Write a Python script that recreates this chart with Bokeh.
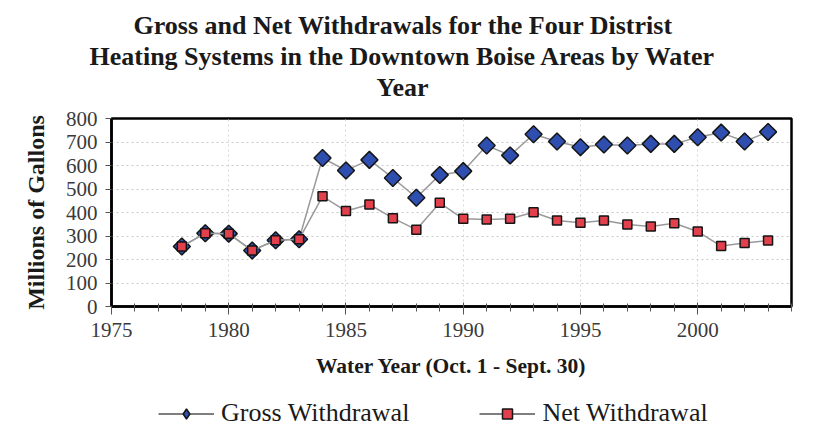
from bokeh.plotting import figure
from bokeh.models import Range1d, FixedTicker, Title, Legend, LegendItem
from bokeh.layouts import column
from bokeh.embed import file_html
from bokeh.resources import INLINE
import numpy as np

years = list(range(1978, 2004))
gross = [255, 312, 310, 238, 282, 286, 632, 579, 624, 547, 463,
         560, 576, 685, 643, 733, 702, 678, 689, 685, 692, 692, 720, 740, 702, 743]
net = [255, 312, 310, 238, 282, 286, 469, 406, 434, 376, 327,
       441, 373, 370, 373, 401, 366, 356, 366, 349, 340, 354, 319, 257, 270, 281]
x_major = [1975, 1980, 1985, 1990, 1995, 2000]
x_minor = list(range(1975, 2005))
y_major = [0, 100, 200, 300, 400, 500, 600, 700, 800]
title_lines = ["Gross and Net Withdrawals for the Four Distrist",
               "Heating Systems in the Downtown Boise Areas by Water",
               "Year"]
x_label = "Water Year (Oct. 1 - Sept. 30)"
y_label = "Millions of Gallons"
series_names = ["Gross Withdrawal", "Net Withdrawal"]

SERIF = "Liberation Serif"
LINE = dict(line_color="#9a9a9a", line_width=1.5)
GROSS_MK = dict(marker="square", angle=np.pi / 4, size=12, fill_color="#2f4fb0",
                line_color="#151515", line_width=1.5)
NET_MK = dict(marker="square", size=9, fill_color="#e2404c",
              line_color="#151515", line_width=1.5)

p = figure(width=815, height=392, frame_width=680, frame_height=188,
           output_backend="svg", toolbar_location=None,
           x_range=Range1d(1975, 2004), y_range=Range1d(0, 800),
           min_border_left=111, min_border_right=24, min_border_top=118,
           min_border_bottom=86)
p.title.visible = False
p.background_fill_color = "white"
p.border_fill_color = "white"
p.outline_line_color = "black"
p.outline_line_width = 2.5

# axes
p.xaxis.ticker = FixedTicker(ticks=x_major, minor_ticks=x_minor)
p.yaxis.ticker = FixedTicker(ticks=y_major)
for ax in (p.xaxis, p.yaxis):
    ax.axis_line_color = "black"
    ax.axis_line_width = 2.5
    ax.major_tick_line_color = "#555555"
    ax.minor_tick_line_color = "#555555"
    ax.major_label_text_font = SERIF
    ax.major_label_text_font_size = "21px"
    ax.major_label_text_color = "#3a3a3a"
    ax.axis_label_text_font = SERIF
    ax.axis_label_text_font_style = "bold"
    ax.axis_label_text_color = "#1a1a1a"

p.xaxis.major_tick_in = 4
p.xaxis.major_tick_out = 8
p.xaxis.minor_tick_in = 3
p.xaxis.minor_tick_out = 5
p.xaxis.major_label_standoff = 8
p.xaxis.axis_label = x_label
p.xaxis.axis_label_text_font_size = "21.5px"
p.xaxis.axis_label_standoff = 14

p.yaxis.major_tick_in = 0
p.yaxis.major_tick_out = 6
p.yaxis.minor_tick_line_color = None
p.yaxis.major_label_standoff = 8
p.yaxis.axis_label = y_label
p.yaxis.axis_label_text_font_size = "24px"
p.yaxis.axis_label_standoff = 14

# grid
p.ygrid.grid_line_color = "#c8c8c8"
p.ygrid.grid_line_dash = "2 3"
p.ygrid.grid_line_width = 1
p.xgrid.grid_line_color = "#d8d8d8"
p.xgrid.grid_line_dash = "2 3"
p.xgrid.grid_line_width = 1

# series
p.line(years, gross, **LINE)
p.scatter(years, gross, **GROSS_MK)
p.line(years, net, **LINE)
p.scatter(years, net, **NET_MK)

# title lines (added innermost first), with a small spacer next to the frame
p.add_layout(Title(text=" ", text_font_size="1px", standoff=14), "above")
offsets = [22, -22, 265]
for t, off in reversed(list(zip(title_lines, offsets))):
    p.add_layout(Title(text=t, align="left", offset=off, standoff=0,
                       text_font=SERIF, text_font_style="bold",
                       text_font_size="26px", text_color="#1a1a1a"), "above")

# legend strip below the chart (series drawn outside its visible range,
# only their legend swatches show)
lg = figure(width=815, height=42, output_backend="svg", toolbar_location=None,
            min_border=0, x_range=Range1d(0, 1), y_range=Range1d(0, 1))
lg.axis.visible = False
lg.grid.visible = False
lg.outline_line_color = None
lg.title.visible = False
LEG_LINE = dict(line_color="#555555", line_width=1.5)
gl = lg.line(years, gross, **LEG_LINE)
gs = lg.scatter(years, gross, marker="diamond", fill_color="#2f4fb0",
                line_color="#151515", line_width=1.5)
nl = lg.line(years, net, **LEG_LINE)
ns = lg.scatter(years, net, marker="square", fill_color="#e2404c",
                line_color="#151515", line_width=1.5)
legend = Legend(items=[LegendItem(label=series_names[0], renderers=[gl, gs]),
                       LegendItem(label=series_names[1], renderers=[nl, ns])],
                orientation="horizontal", location=(47, 6),
                label_text_font=SERIF, label_text_font_size="26px",
                label_text_color="#1a1a1a", glyph_width=56, glyph_height=25,
                label_height=20, spacing=70, label_standoff=7,
                border_line_color=None, background_fill_alpha=0,
                padding=0, margin=0)
lg.add_layout(legend, "center")

layout = column(p, lg, spacing=0)
open("out.html", "w").write(file_html(layout, INLINE))
